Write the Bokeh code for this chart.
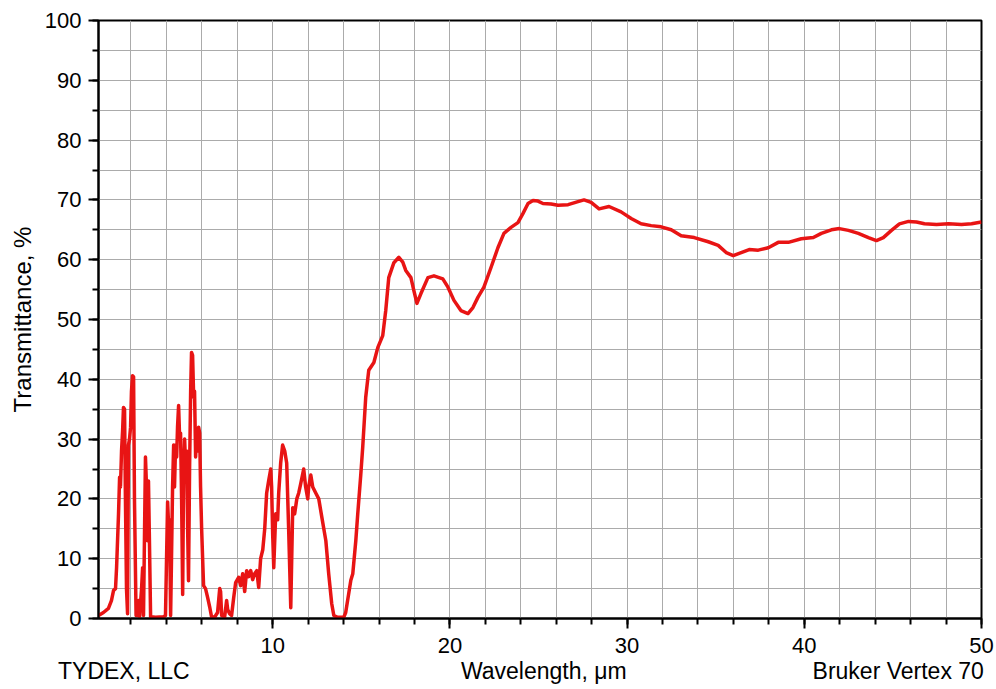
from bokeh.plotting import figure
from bokeh.models import Range1d, SingleIntervalTicker, FixedTicker, LinearAxis, AllLabels
from bokeh.embed import file_html
from bokeh.resources import INLINE

wavelength = [
    0.17, 0.45, 0.73, 0.90, 1.02, 1.13, 1.19, 1.30, 1.36, 1.41, 1.47, 1.53, 1.58, 1.64, 1.69, 1.75, 1.81,
    1.86, 1.92, 1.98, 2.03, 2.09, 2.15, 2.20, 2.29, 2.37, 2.43, 2.49, 2.60, 2.66, 2.71, 2.77, 2.82,
    2.88, 2.94, 2.99, 3.05, 3.11, 3.39, 3.84, 3.95, 4.07, 4.12, 4.18, 4.24, 4.29, 4.35, 4.41, 4.46,
    4.52, 4.58, 4.63, 4.69, 4.75, 4.80, 4.86, 4.92, 4.97, 5.03, 5.08, 5.14, 5.20, 5.25, 5.31, 5.37,
    5.42, 5.48, 5.54, 5.59, 5.65, 5.71, 5.76, 5.82, 5.88, 5.93, 5.99, 6.05, 6.10, 6.21, 6.33, 6.44,
    6.55, 6.72, 6.89, 7.01, 7.06, 7.12, 7.29, 7.40, 7.46, 7.57, 7.68, 7.80, 7.91, 8.08, 8.19, 8.31,
    8.42, 8.53, 8.64, 8.76, 8.87, 8.98, 9.10, 9.21, 9.32, 9.44, 9.55, 9.66, 9.77, 9.89, 9.94, 10.00,
    10.06, 10.17, 10.23, 10.28, 10.34, 10.45, 10.56, 10.68, 10.79, 10.90, 11.02, 11.13, 11.24, 11.36,
    11.47, 11.58, 11.75, 11.86, 11.98, 12.03, 12.15, 12.26, 12.43, 12.60, 12.77, 13.00, 13.16, 13.33,
    13.45, 13.67, 14.01, 14.12, 14.41, 14.52, 14.69, 14.80, 14.97, 15.08, 15.25, 15.42, 15.71, 15.93,
    16.21, 16.38, 16.55, 16.84, 17.12, 17.34, 17.51, 17.80, 17.97, 18.14, 18.36, 18.76, 19.10, 19.60,
    19.89, 20.23, 20.62, 21.02, 21.30, 21.58, 21.92, 22.32, 22.71, 23.05, 23.45, 23.84, 24.12, 24.41,
    24.69, 24.97, 25.25, 25.71, 26.10, 26.67, 27.23, 27.57, 27.97, 28.42, 28.98, 29.66, 30.23, 30.79,
    31.36, 31.92, 32.49, 33.05, 33.79, 34.58, 35.14, 35.59, 35.99, 36.44, 36.89, 37.40, 37.97, 38.53,
    39.10, 39.83, 40.51, 40.96, 41.53, 41.98, 42.49, 43.05, 43.62, 44.07, 44.46, 44.92, 45.37, 45.88,
    46.33, 46.78, 47.46, 48.14, 48.87, 49.44, 50.00,
]
transmittance = [
    0.5, 1.0, 1.7, 3.0, 4.7, 5.0, 8.5, 17.5, 23.6, 22.0, 28.0, 31.4, 35.3, 35.0, 20.0, 5.0, 0.8,
    29.0, 30.0, 32.0, 38.0, 40.6, 40.4, 20.0, 0.5, 0.5, 3.0, 0.3, 5.0, 8.5, 0.5, 15.0, 27.0,
    22.0, 13.0, 23.0, 12.0, 0.3, 0.2, 0.3, 0.5, 19.5, 16.0, 16.5, 0.5, 10.0, 22.0, 29.0, 22.0,
    29.0, 27.0, 32.0, 35.6, 30.0, 31.0, 20.0, 4.0, 24.0, 30.0, 26.0, 28.0, 15.0, 6.3, 25.0, 38.0,
    44.5, 44.0, 37.0, 38.0, 27.0, 31.0, 28.0, 32.0, 31.0, 22.0, 15.0, 9.7, 5.5, 5.0, 3.5, 2.0,
    0.3, 0.2, 1.0, 5.0, 4.5, 0.5, 0.3, 3.0, 1.5, 0.8, 0.5, 3.5, 6.0, 6.9, 5.5, 7.5,
    4.5, 8.0, 7.0, 8.0, 6.5, 7.5, 8.0, 5.2, 10.0, 11.5, 15.0, 21.0, 23.0, 25.0, 22.0, 14.0,
    8.5, 17.5, 17.0, 16.5, 21.0, 26.0, 29.0, 28.0, 26.0, 15.0, 1.8, 18.5, 17.5, 20.0,
    21.0, 22.5, 25.0, 22.0, 20.0, 22.0, 24.0, 22.0, 21.0, 20.0, 17.0, 13.0, 7.5, 2.5,
    0.5, 0.2, 0.2, 1.0, 6.4, 7.5, 13.0, 17.5, 24.0, 28.6, 37.0, 41.5, 42.8, 45.3,
    47.3, 51.5, 57.0, 59.5, 60.4, 59.6, 58.2, 57.0, 54.8, 52.7, 54.3, 57.0, 57.3, 56.8,
    55.4, 53.2, 51.5, 51.0, 52.0, 53.7, 55.4, 58.7, 62.0, 64.4, 65.4, 66.2, 67.7, 69.4,
    69.9, 69.8, 69.4, 69.3, 69.1, 69.2, 69.7, 70.0, 69.6, 68.5, 68.9, 68.0, 66.9, 66.0,
    65.7, 65.5, 65.0, 64.0, 63.7, 63.0, 62.4, 61.2, 60.7, 61.2, 61.7, 61.6, 62.0, 62.9,
    62.9, 63.5, 63.7, 64.4, 65.0, 65.2, 64.9, 64.4, 63.7, 63.2, 63.7, 64.9, 66.0, 66.4,
    66.3, 66.0, 65.9, 66.0, 65.9, 66.0, 66.3,
]

x_label = "Wavelength, μm"
y_label = "Transmittance, %"
left_note = "TYDEX, LLC"
right_note = "Bruker Vertex 70"
# positions (in wavelength units) where the bottom text line is centred
bottom_text_pos = [1.6, 25.3, 45.3]
bottom_texts = [left_note, x_label, right_note]

FONT = "Liberation Sans"

p = figure(width=996, height=689, output_backend="svg", toolbar_location=None,
           x_range=Range1d(0.17, 50), y_range=Range1d(0, 100),
           min_border_left=98, min_border_right=15, min_border_top=20, min_border_bottom=71,
           background_fill_color="white", border_fill_color="white")

p.outline_line_color = "black"
p.outline_line_width = 2
p.outline_line_alpha = 1.0

p.xaxis.ticker = SingleIntervalTicker(interval=10, num_minor_ticks=5)
p.yaxis.ticker = SingleIntervalTicker(interval=10, num_minor_ticks=2)

for ax in (p.xaxis[0], p.yaxis[0]):
    ax.axis_line_color = "black"
    ax.axis_line_width = 2
    ax.major_tick_line_color = "black"
    ax.major_tick_line_width = 2
    ax.minor_tick_line_color = "black"
    ax.minor_tick_line_width = 2
    ax.major_tick_out = 10
    ax.major_tick_in = 0
    ax.minor_tick_out = 6
    ax.minor_tick_in = 0
    ax.major_label_policy = AllLabels()
    ax.major_label_text_font = FONT
    ax.major_label_text_font_size = "22px"
    ax.major_label_text_color = "black"
    ax.axis_label_text_font = FONT
    ax.axis_label_text_font_size = "24px"
    ax.axis_label_text_font_style = "normal"
    ax.axis_label_text_color = "black"

p.yaxis.axis_label = y_label
p.xaxis.major_label_standoff = 9
p.yaxis.major_label_standoff = 7
p.yaxis.axis_label_standoff = 6

for g in (p.xgrid[0], p.ygrid[0]):
    g.grid_line_color = "#ababab"
    g.grid_line_width = 1
    g.minor_grid_line_color = "#ababab"
    g.minor_grid_line_width = 1

# second row of text under the x axis: notes + axis title
text_axis = LinearAxis(ticker=FixedTicker(ticks=bottom_text_pos),
                       major_label_overrides={pos: txt for pos, txt in zip(bottom_text_pos, bottom_texts)},
                       major_label_policy=AllLabels())
text_axis.axis_line_color = None
text_axis.major_tick_line_color = None
text_axis.minor_tick_line_color = None
text_axis.major_tick_out = 0
text_axis.major_tick_in = 0
text_axis.major_label_standoff = 2
text_axis.major_label_text_font = FONT
text_axis.major_label_text_font_size = "23px"
text_axis.major_label_text_color = "black"
p.add_layout(text_axis, "below")

p.line(wavelength, transmittance, line_color="#e81414", line_width=3.5, line_join="round")

open("out.html", "w").write(file_html(p, INLINE))
